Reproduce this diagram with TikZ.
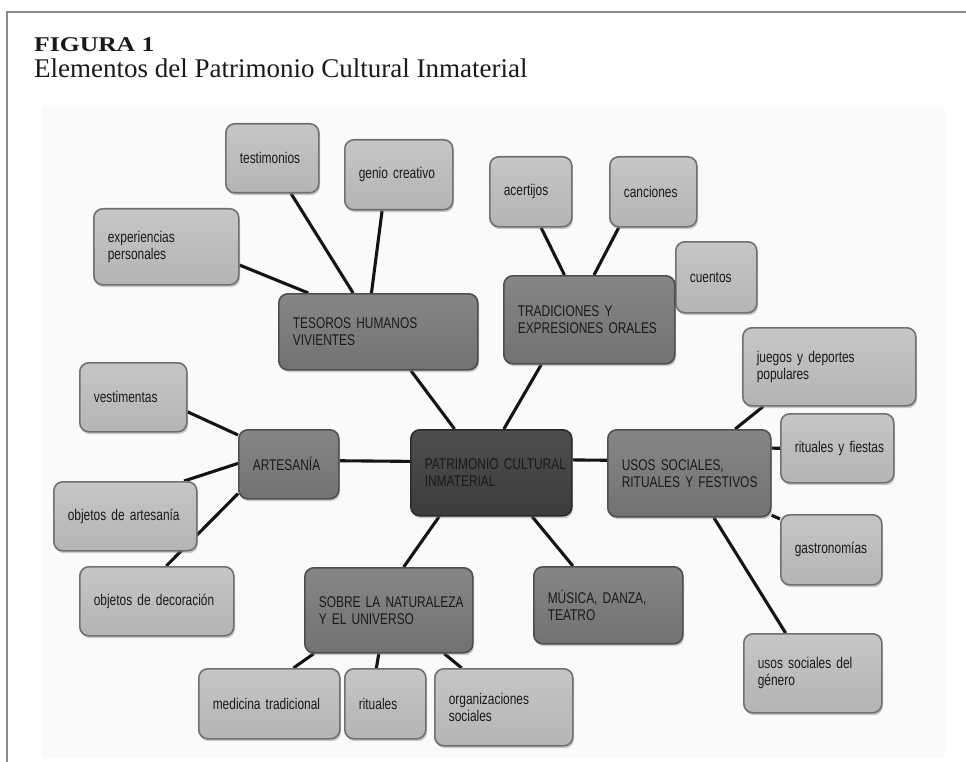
\documentclass[tikz,border=0pt]{standalone}
\usepackage{fontspec}
\newfontfamily\boxfont[FakeStretch=0.77]{Liberation Sans}
\newfontfamily\titlefont{Liberation Serif}
\newfontfamily\figfont[FakeStretch=1.22]{Liberation Serif}
\protected\def\boxsel{\boxfont\fontsize{15.5}{17}\selectfont\fontdimen2\font=3.4pt\relax\fontdimen3\font=0pt\relax\fontdimen4\font=0pt\relax}
\usetikzlibrary{shadows,backgrounds}
\definecolor{lt}{HTML}{C6C6C6}
\definecolor{lb}{HTML}{B4B4B4}
\definecolor{ld}{HTML}{707070}
\definecolor{mt}{HTML}{868686}
\definecolor{mb}{HTML}{727272}
\definecolor{md}{HTML}{4E4E4E}
\definecolor{dt}{HTML}{4E4E4E}
\definecolor{db}{HTML}{3C3C3C}
\definecolor{dd}{HTML}{2A2A2A}
\definecolor{txt}{HTML}{1A1A1A}
\definecolor{framec}{HTML}{8A8A8A}
\tikzset{
  basebox/.style={rectangle, rounded corners=9pt, line width=1.6pt, anchor=north west,
    inner xsep=14pt, inner ysep=2pt, align=left, text=txt,
    font=\boxsel,
    drop shadow={shadow xshift=1.2pt, shadow yshift=-2.4pt, opacity=.4}},
  lightbox/.style={basebox, draw=ld, top color=lt, bottom color=lb},
  midbox/.style={basebox, draw=md, top color=mt, bottom color=mb},
  darkbox/.style={basebox, draw=dd, top color=dt, bottom color=db},
  link/.style={line width=3.1pt, black!92}
}
\newcommand\bx[7]{\node[#1, text width=#5pt, minimum height=#6pt] (#2) at (#3,#4) {#7};}
\begin{document}
\begin{tikzpicture}[x=1pt,y=-1pt]
\useasboundingbox (0,0) rectangle (966,762);
\draw[framec, line width=1.8pt] (7,762) -- (7,12) -- (966,12);
\node[anchor=base west, inner sep=0, text=txt, font=\figfont\fontsize{21}{24}\selectfont\bfseries] (fig) at (34,52) {FIGURA 1};
\node[anchor=base west, inner sep=0, text=txt, font=\titlefont\fontsize{27}{32}\selectfont] (sub) at (34,78) {Elementos del Patrimonio Cultural Inmaterial};

\bx{lightbox}{testi}{225}{123}{65}{69}{testimonios}
\bx{lightbox}{genio}{344}{139}{80}{70}{genio creativo}
\bx{lightbox}{exper}{93}{208}{117}{76}{experiencias\\personales}
\bx{midbox}{tesoros}{278}{293}{171}{76}{\mbox{TESOROS HUMANOS}\\VIVIENTES}
\bx{lightbox}{acert}{489}{156}{54}{70}{acertijos}
\bx{lightbox}{canc}{609}{156}{59}{70}{canciones}
\bx{lightbox}{cuent}{675}{241}{53}{71}{cuentos}
\bx{midbox}{trad}{503}{275}{143}{88}{\mbox{TRADICIONES Y}\\\mbox{EXPRESIONES ORALES}}
\bx{lightbox}{juegos}{742}{327}{145}{78}{\mbox{juegos y deportes}\\populares}
\bx{lightbox}{vest}{79}{362}{79}{69}{vestimentas}
\bx{midbox}{art}{238}{429}{72}{69}{ARTESANÍA}
\bx{darkbox}{pat}{410}{429}{133}{86}{\mbox{PATRIMONIO CULTURAL}\\INMATERIAL}
\bx{midbox}{usos}{607}{429}{135}{87}{\mbox{USOS SOCIALES,}\\\mbox{RITUALES Y FESTIVOS}}
\bx{lightbox}{ritf}{780}{413}{85}{69}{\mbox{rituales y fiestas}}
\bx{lightbox}{objart}{53}{481}{115}{69}{\mbox{objetos de artesanía}}
\bx{lightbox}{gastro}{780}{514}{73}{70}{\mbox{gastronomías}}
\bx{lightbox}{deco}{79}{566}{126}{69}{\mbox{objetos de decoración}}
\bx{midbox}{sobre}{304}{567}{140}{85}{\mbox{SOBRE LA NATURALEZA}\\\mbox{Y EL UNIVERSO}}
\bx{midbox}{musica}{533}{566}{121}{77}{\mbox{MÚSICA, DANZA,}\\TEATRO}
\bx{lightbox}{genero}{743}{633}{110}{79}{\mbox{usos sociales del}\\género}
\bx{lightbox}{medic}{198}{668}{113}{70}{\mbox{medicina tradicional}}
\bx{lightbox}{ritu}{344}{668}{53}{70}{rituales}
\bx{lightbox}{org}{434}{668}{110}{77}{organizaciones\\sociales}

\begin{pgfonlayer}{background}
\fill[black!2] (42,107) rectangle (945,758);
\draw[link] (exper.346) -- (tesoros.151);
\draw[link] (testi.298) -- (tesoros.123);
\draw[link] (genio.245) -- (tesoros.100);
\draw[link] (tesoros.310) -- (pat.130);
\draw[link] (acert.286) -- (trad.119);
\draw[link] (canc.226) -- (trad.84);
\draw[link] (cuent.186) -- (trad.24);
\draw[link] (trad.223) -- (pat.74);
\draw[link] (juegos.211) -- (usos.44);
\draw[link] (ritf.180) -- (usos.17);
\draw[link] (gastro.149) -- (usos.333);
\draw[link] (genero.124) -- (usos.299);
\draw[link] (pat.9) -- (usos.171);
\draw[link] (pat.313) -- (musica.132);
\draw[link] (pat.220) -- (sobre.71);
\draw[link] (art.4) -- (pat.172);
\draw[link] (vest.345) -- (art.150);
\draw[link] (objart.31) -- (art.179);
\draw[link] (deco.75) -- (art.210);
\draw[link] (sobre.210) -- (medic.56);
\draw[link] (sobre.257) -- (ritu.104);
\draw[link] (sobre.322) -- (org.137);
\end{pgfonlayer}
\end{tikzpicture}
\end{document}
